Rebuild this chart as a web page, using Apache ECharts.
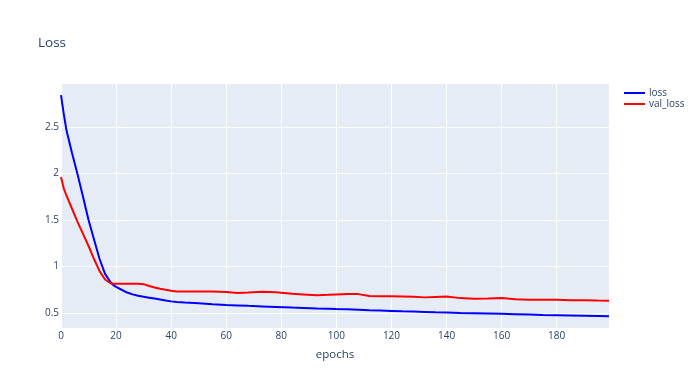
<!DOCTYPE html>
<html>
<head>
<meta charset="utf-8">
<script src="https://cdn.jsdelivr.net/npm/echarts@6/dist/echarts.min.js"></script>
<style>
html,body{margin:0;padding:0;background:#fff;}
#chart{width:700px;height:388px;}
</style>
</head>
<body>
<div id="chart"></div>
<script>
var epochs = [0,1,2,4,6,8,10,12,14,16,18,19,20,22,24,26,28,30,32,34,36,38,40,42,45,50,55,60,64,68,73,78,84,88,93,97,100,104,108,112,116,120,124,128,132,136,140,145,150,155,160,165,170,175,180,185,190,195,199];
var loss = [2.84,2.64,2.46,2.22,1.99,1.75,1.50,1.29,1.08,0.92,0.83,0.80,0.78,0.75,0.72,0.70,0.685,0.675,0.665,0.655,0.645,0.635,0.625,0.618,0.612,0.604,0.595,0.587,0.582,0.577,0.571,0.565,0.558,0.554,0.549,0.546,0.543,0.54,0.535,0.53,0.526,0.522,0.518,0.515,0.512,0.508,0.505,0.501,0.498,0.495,0.491,0.487,0.483,0.479,0.476,0.473,0.47,0.467,0.464];
var valLoss = [1.96,1.84,1.76,1.62,1.48,1.35,1.22,1.08,0.95,0.86,0.82,0.815,0.815,0.815,0.815,0.815,0.815,0.81,0.79,0.775,0.76,0.75,0.74,0.732,0.73,0.73,0.73,0.725,0.715,0.72,0.728,0.722,0.707,0.70,0.69,0.695,0.70,0.705,0.703,0.683,0.68,0.68,0.678,0.674,0.668,0.673,0.678,0.66,0.652,0.655,0.66,0.648,0.643,0.643,0.643,0.638,0.636,0.634,0.633];
var seriesNames = ['loss','val_loss'];
var titleText = 'Loss';
var xTitle = 'epochs';

function pairs(xs, ys){ return xs.map(function(x,i){ return [x, ys[i]]; }); }

var txt = '#2a3f5f';
var font = '"Open Sans", "Liberation Sans", sans-serif';
var chart = echarts.init(document.getElementById('chart'), null, {renderer:'canvas'});
chart.setOption({
  animation: false,
  backgroundColor: '#ffffff',
  title: {
    text: titleText, left: 38, top: 36, padding: 0,
    textStyle: {fontFamily: font, fontSize: 13.5, fontWeight: 'normal', color: txt}
  },
  legend: {
    orient: 'vertical', left: 624, top: 88, padding: 0,
    itemWidth: 21, itemHeight: 2, itemGap: 1, icon: 'rect',
    textStyle: {fontFamily: font, fontSize: 10, color: txt, padding: [0,0,0,-1]},
    data: seriesNames
  },
  grid: {
    left: 61, right: 91, top: 83, bottom: 60,
    show: true, backgroundColor: '#E5ECF6', borderWidth: 0
  },
  xAxis: {
    type: 'value', min: 0, max: 199, interval: 20,
    name: xTitle, nameLocation: 'middle', nameGap: 21,
    nameTextStyle: {fontFamily: font, fontSize: 11.5, color: txt},
    axisLine: {show: false}, axisTick: {show: false},
    axisLabel: {fontFamily: font, fontSize: 10, color: txt, margin: 3, showMaxLabel: false},
    splitLine: {show: true, lineStyle: {color: '#ffffff', width: 1}}
  },
  yAxis: {
    type: 'value', min: 0.339, max: 2.971, splitNumber: 5, minInterval: 0.5, maxInterval: 0.5,
    axisLine: {show: false}, axisTick: {show: false},
    axisLabel: {fontFamily: font, fontSize: 10, color: txt, margin: 2, showMinLabel: false, showMaxLabel: false},
    splitLine: {show: true, lineStyle: {color: '#ffffff', width: 1}}
  },
  series: [
    {name: seriesNames[0], type: 'line', data: pairs(epochs, loss), showSymbol: false, symbol: 'none',
     lineStyle: {color: '#0000ff', width: 2}, itemStyle: {color: '#0000ff'}},
    {name: seriesNames[1], type: 'line', data: pairs(epochs, valLoss), showSymbol: false, symbol: 'none',
     lineStyle: {color: '#ff0000', width: 2}, itemStyle: {color: '#ff0000'}}
  ]
});
</script>
</body>
</html>
